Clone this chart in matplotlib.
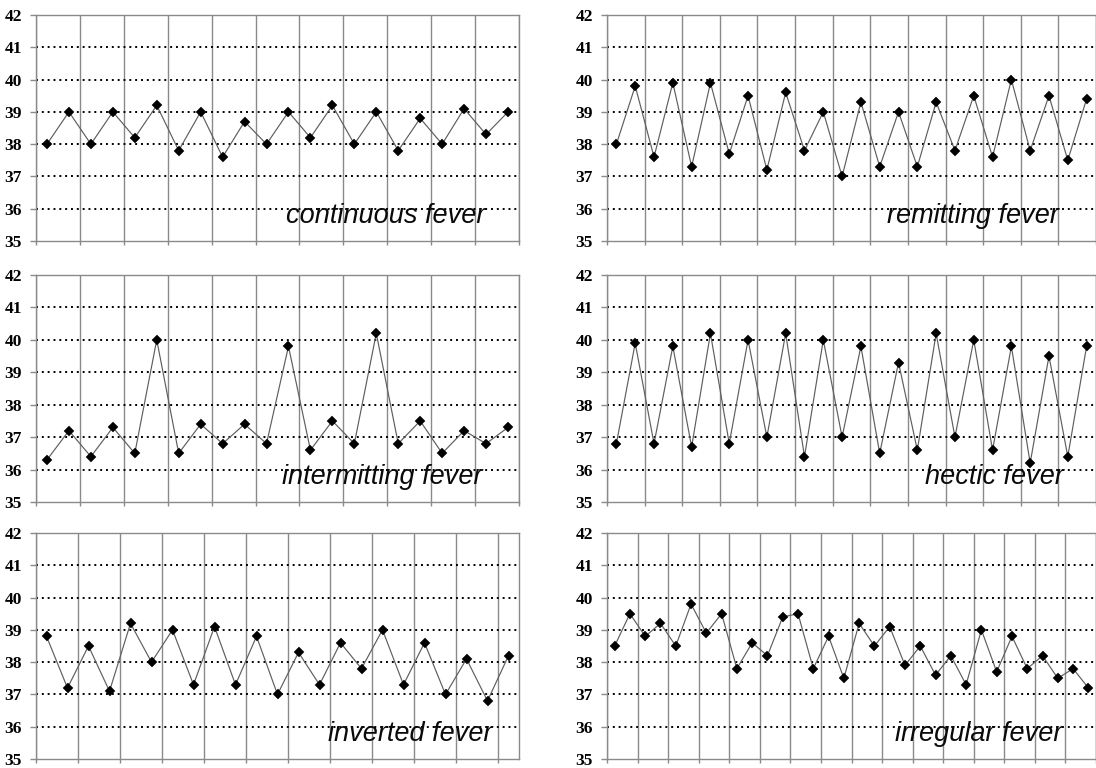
import matplotlib
matplotlib.use("Agg")
import matplotlib.pyplot as plt

continuous = [38, 39, 38, 39, 38.2, 39.2, 37.8, 39, 37.6, 38.7, 38, 39, 38.2, 39.2,
              38, 39, 37.8, 38.8, 38, 39.1, 38.3, 39]
remitting = [38, 39.8, 37.6, 39.9, 37.3, 39.9, 37.7, 39.5, 37.2, 39.6, 37.8, 39, 37,
             39.3, 37.3, 39, 37.3, 39.3, 37.8, 39.5, 37.6, 40, 37.8, 39.5, 37.5, 39.4]
intermitting = [36.3, 37.2, 36.4, 37.3, 36.5, 40, 36.5, 37.4, 36.8, 37.4, 36.8, 39.8,
                36.6, 37.5, 36.8, 40.2, 36.8, 37.5, 36.5, 37.2, 36.8, 37.3]
hectic = [36.8, 39.9, 36.8, 39.8, 36.7, 40.2, 36.8, 40, 37, 40.2, 36.4, 40, 37, 39.8,
          36.5, 39.3, 36.6, 40.2, 37, 40, 36.6, 39.8, 36.2, 39.5, 36.4, 39.8]
inverted = [38.8, 37.2, 38.5, 37.1, 39.2, 38, 39, 37.3, 39.1, 37.3, 38.8, 37, 38.3,
            37.3, 38.6, 37.8, 39, 37.3, 38.6, 37, 38.1, 36.8, 38.2]
irregular = [38.5, 39.5, 38.8, 39.2, 38.5, 39.8, 38.9, 39.5, 37.8, 38.6, 38.2, 39.4,
             39.5, 37.8, 38.8, 37.5, 39.2, 38.5, 39.1, 37.9, 38.5, 37.6, 38.2, 37.3,
             39, 37.7, 38.8, 37.8, 38.2, 37.5, 37.8, 37.2]

labels = ["continuous fever", "remitting fever", "intermitting fever",
          "hectic fever", "inverted fever", "irregular fever"]
series = [continuous, remitting, intermitting, hectic, inverted, irregular]
y_ticks = [35, 36, 37, 38, 39, 40, 41, 42]

W, H = 1096, 768
fig = plt.figure(figsize=(W / 100, H / 100), dpi=100)

# pixel boxes: (top, bottom) per row, (left, right) per column
rows = [(15, 241), (275, 502), (533, 759)]
cols = [(36, 519), (607, 1096)]
text_right = [485, 1059, 482, 1064, 493, 1062]

grey = "#8a8a8a"
for k, (vals, lab) in enumerate(zip(series, labels)):
    r, c = divmod(k, 2)
    top, bot = rows[r]
    left, right = cols[c]
    ax = fig.add_axes([left / W, 1 - bot / H, (right - left) / W, (bot - top) / H])
    n = len(vals)
    xs = [i + 0.5 for i in range(n)]
    ax.plot(xs, vals, color="#5e5e5e", lw=0.85, zorder=3)
    ax.plot(xs, vals, ls="none", marker="D", ms=4.8, mfc="black", mec="black",
            mew=0.3, zorder=4)
    ax.set_xlim(0, n)
    ax.set_ylim(35, 42)
    ax.set_yticks(y_ticks)
    ax.set_xticks(list(range(0, n + 1, 2)))
    ax.set_xticklabels([])
    ax.set_yticklabels([str(t) for t in y_ticks], fontfamily="Liberation Serif",
                       fontweight="bold", fontsize=12.5)
    ax.tick_params(axis="y", direction="out", length=4, width=1, color=grey, pad=6)
    ax.tick_params(axis="x", direction="out", length=3, width=1, color=grey)
    ax.grid(axis="x", color=grey, lw=1.0, ls="-", zorder=1)
    ax.grid(axis="y", color="black", lw=1.4, ls=(0, (1, 2.0)), zorder=2)
    ax.get_ygridlines()[0].set_visible(False)
    ax.set_axisbelow(True)
    for s in ax.spines.values():
        s.set_color(grey)
        s.set_linewidth(1.0)
    xt = (text_right[k] - left) / (right - left)
    ax.text(xt, 35.55, lab, transform=ax.get_yaxis_transform(), ha="right",
            va="baseline", fontsize=19.5, fontstyle="italic",
            fontfamily="Liberation Sans", color="#0a0a0a", zorder=5)

fig.savefig("out.png", dpi=100)
